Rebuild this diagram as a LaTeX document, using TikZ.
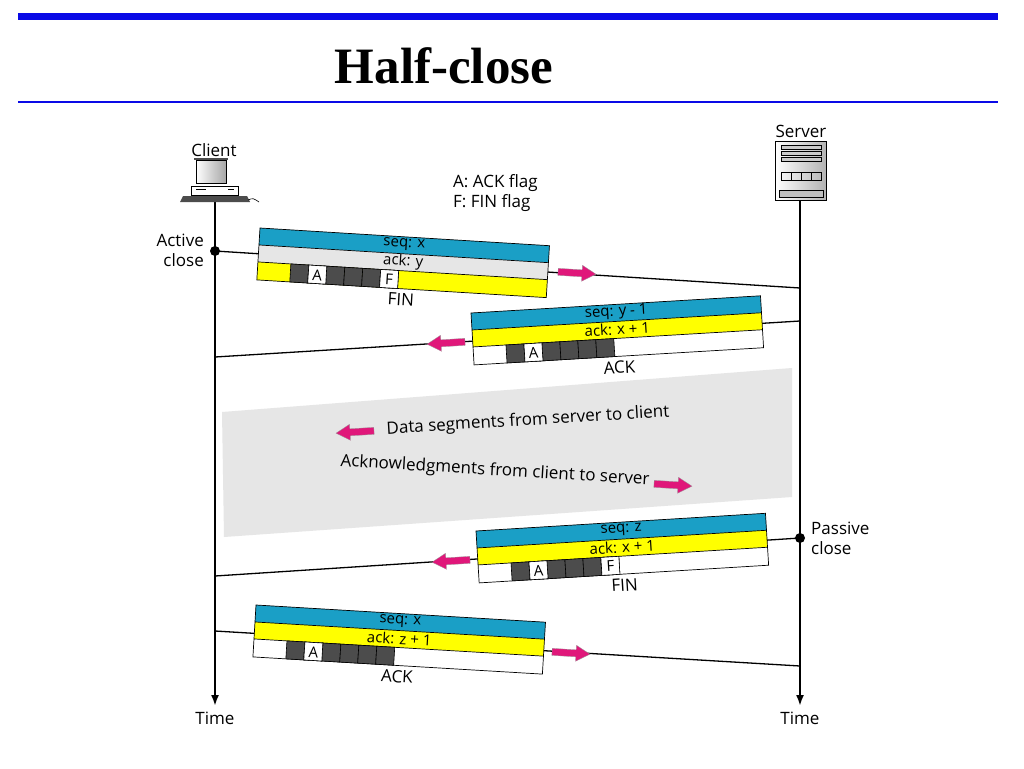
\documentclass[tikz,border=0pt]{standalone}
\usepackage{fontspec}
\usetikzlibrary{arrows.meta}
\setmainfont{Liberation Serif}
\newfontfamily\osans{Open Sans}
\begin{document}
\begin{tikzpicture}[x=1pt,y=-1pt,
  lbl/.style={font=\osans\fontsize{17}{20}\selectfont, inner sep=0pt},
  slbl/.style={font=\osans\fontsize{15}{17}\selectfont, inner sep=0pt},
  tl/.style={line width=2pt,-{Latex[length=11pt,width=8pt]}},
  msg/.style={line width=1.3pt},
  cell/.style={draw=black,line width=0.6pt}]
\definecolor{segblue}{HTML}{1A9FC6}
\definecolor{segyel}{HTML}{FFFF00}
\definecolor{seggray}{HTML}{E6E6E6}
\definecolor{pink}{HTML}{E0177A}
\definecolor{titleblue}{HTML}{0A0AE6}
\useasboundingbox (0,0) rectangle (1024,768);
\fill[white] (0,0) rectangle (1024,768);
% title
\fill[titleblue] (18,13) rectangle (998,20);
\draw[titleblue,line width=2pt] (18,102) -- (998,102);
\node[font=\bfseries\fontsize{51}{56}\selectfont] (title) at (444,66) {Half-close};
% gray band
\fill[seggray] (222,412) -- (792,368) -- (792,497) -- (224,537) -- cycle;
% timelines
\draw[tl] (215,200) -- (215,706) coordinate (ct);
\draw[tl] (800,200) -- (800,706) coordinate (st);
\node[lbl] (time1) at (215,718) {Time};
\node[lbl] (time2) at (800,718) {Time};
% client icon
\node[lbl] (client) at (214,150) {Client};
\begin{scope}[line width=0.6pt]
\shade[left color=white,right color=gray!70,draw=black] (196,160) rectangle (226,183);
\fill[black!70] (194,158) rectangle (228,160);
\draw (191,186) rectangle (238,195);
\draw (196,189) -- (206,189) (228,189) -- (234,189);
\fill[black!70] (183,196) -- (247,196) -- (250,202) -- (180,202) -- cycle;
\draw (248,200) .. controls (253,198) .. (259,202);
\end{scope}
% server icon
\node[lbl] (server) at (801,131) {Server};
\begin{scope}[line width=0.6pt]
\shade[left color=white,right color=gray!60,draw=black] (775,141) rectangle (826,200);
\foreach \yy in {145,151,157} \draw[fill=gray!40] (781,\yy) rectangle (821,\yy+4);
\draw (781,172) rectangle (821,180);
\foreach \xx in {791,801,811} \draw (\xx,172) -- (\xx,180);
\draw[fill=gray!50] (779,190) rectangle (823,197);
\end{scope}
\node[lbl,align=left,anchor=north west] (legend) at (453,174) {A: ACK flag\\[0pt]F: FIN flag};
\node[lbl,align=right,anchor=east] (active) at (204,250) {Active\\close};
\node[lbl,align=left,anchor=west] (passive) at (811,538) {Passive\\close};
% message lines
\fill (215,251) circle (5);
\fill (800,538) circle (5);
\coordinate (c1) at (215,251); \coordinate (s1) at (800,288);
\coordinate (s2) at (800,321); \coordinate (c2) at (215,357);
\coordinate (s3) at (800,538); \coordinate (c3) at (215,576);
\coordinate (c4) at (215,631); \coordinate (s4) at (800,666);
\draw[msg] (c1) -- (s1);
\draw[msg] (s2) -- (c2);
\draw[msg] (s3) -- (c3);
\draw[msg] (c4) -- (s4);
% pink arrows
\newcommand\pinkarrow[4]{%
 \begin{scope}[shift={(#1,#2)},rotate=#3,xscale=#4]
 \fill[pink,draw=black!40,line width=0.3pt] (-19,-3.5) -- (5,-3.5) -- (5,-8) -- (19,0) -- (5,8) -- (5,3.5) -- (-19,3.5) -- cycle;
 \end{scope}}
\pinkarrow{577}{273}{-3.5}{1}
\pinkarrow{446}{343}{3.5}{-1}
\pinkarrow{451}{561}{3.5}{-1}
\pinkarrow{571}{653}{-3.5}{1}
\pinkarrow{355}{432}{3.5}{-1}
\pinkarrow{673}{485}{-3.5}{1}
\node[lbl,rotate=3.5] (data) at (528,421) {Data segments from server to client};
\node[lbl,rotate=-3.5] (acks) at (495,471) {Acknowledgments from client to server};
\newcommand\seg[9]{%
 \begin{scope}[shift={(#1,#2)},rotate=#3,transform shape]
 \fill[segblue] (0,0) rectangle (290,17);
 \fill[#6] (0,17) rectangle (290,34);
 \fill[#7] (0,34) rectangle (290,52);
 \draw[line width=0.7pt] (0,0) rectangle (290,52) (0,17) -- (290,17) (0,34) -- (290,34);
 \foreach \i in {0,...,5} \draw[cell,fill=black!70] (33+\i*18,34) rectangle (51+\i*18,52);
 \draw[cell,fill=white] (51,34) rectangle (69,52);
 \node[slbl] at (60,43.5) {A};
 #8
 \node[slbl] at (145,8) {#4};
 \node[slbl] at (145,25) {#5};
 \node[lbl] at (145,63) {#9};
 \end{scope}}
\seg{260}{228}{-3.5}{seq: x}{ack: y}{seggray}{segyel}{\draw[cell,fill=white] (123,34) rectangle (141,52); \node[slbl] at (132,43.5) {F};}{FIN}
\seg{471}{313}{3.4}{seq: y - 1}{ack: x + 1}{segyel}{white}{}{ACK}
\seg{476}{531}{3.5}{seq: z}{ack: x + 1}{segyel}{white}{\draw[cell,fill=white] (123,34) rectangle (141,52); \node[slbl] at (132,43.5) {F};}{FIN}
\seg{256}{605}{-3.4}{seq: x}{ack: z + 1}{segyel}{white}{}{ACK}
\end{tikzpicture}
\end{document}
